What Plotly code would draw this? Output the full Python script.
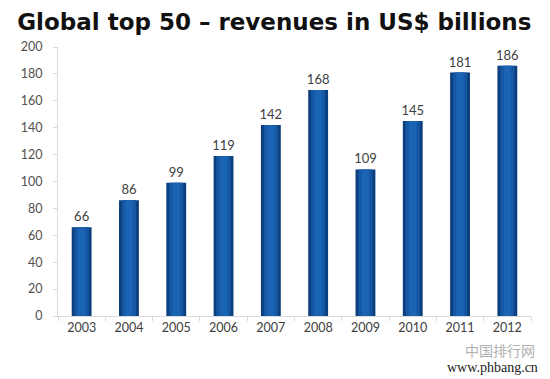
import plotly.graph_objects as go

years = ["2003", "2004", "2005", "2006", "2007", "2008", "2009", "2010", "2011", "2012"]
revenues = [66, 86, 99, 119, 142, 168, 109, 145, 181, 186]
y_ticks = [0, 20, 40, 60, 80, 100, 120, 140, 160, 180, 200]

fig = go.Figure()
# dark outer bar
fig.add_trace(go.Bar(
    x=years, y=revenues, width=0.42,
    marker=dict(color="#0c3f7e", line=dict(width=0)),
    text=[str(v) for v in revenues], textposition="outside", constraintext="none",
    textfont=dict(family="Lato", size=13, color="#404040"),
    cliponaxis=False, hoverinfo="skip",
))
# lighter inner bands to mimic the cylindrical gradient
fig.add_trace(go.Bar(
    x=years, y=revenues, width=0.30,
    marker=dict(color="#1557a3", line=dict(width=0)), hoverinfo="skip",
))
fig.add_trace(go.Bar(
    x=years, y=revenues, width=0.16,
    marker=dict(color="#1b64b3", line=dict(width=0)), hoverinfo="skip",
))

fig.update_layout(
    width=542, height=371,
    margin=dict(l=50, r=19, t=39, b=63, autoexpand=False),
    paper_bgcolor="white", plot_bgcolor="white",
    barmode="overlay", showlegend=False,
    title=dict(text="<b>Global top 50 – revenues in US$ billions</b>",
               x=0.017, xanchor="left", y=0.962, yanchor="middle",
               font=dict(family="DejaVu Sans", size=23, color="#111111")),
    xaxis=dict(type="category", showgrid=False, showline=True, linecolor="#d9d9d9",
               automargin=False,
               ticks="outside", tickson="boundaries", ticklen=4, tickcolor="#d9d9d9",
               tickfont=dict(family="Lato", size=12.5, color="#404040")),
    yaxis=dict(range=[0, 200], tickvals=y_ticks, showgrid=False, zeroline=False,
               automargin=False,
               showline=True, linecolor="#d9d9d9", ticks="outside", ticklen=4,
               tickcolor="#d9d9d9", ticklabelstandoff=8,
               tickfont=dict(family="Lato", size=12.5, color="#505050")),
    annotations=[
        dict(text="中国排行网", xref="paper", yref="paper", x=1.013, y=-0.126,
             xanchor="right", yanchor="middle", showarrow=False,
             font=dict(family="Noto Sans CJK SC", size=14, color="#b0b0b0")),
        dict(text="www.phbang.cn", xref="paper", yref="paper", x=1.019, y=-0.19,
             xanchor="right", yanchor="middle", showarrow=False,
             font=dict(family="Liberation Serif", size=14, color="#222222")),
    ],
)

fig.write_html("out.html")
